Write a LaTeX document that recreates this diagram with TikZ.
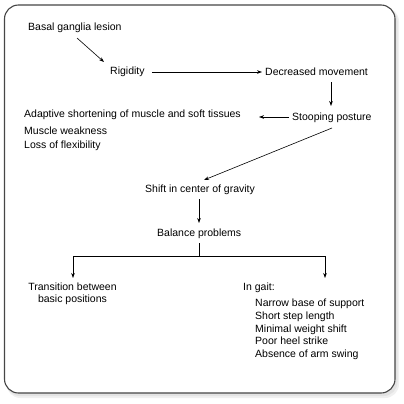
\documentclass[tikz,border=0pt]{standalone}
\usepackage{fontspec}
\setmainfont{Liberation Sans}
\usetikzlibrary{arrows.meta}
\begin{document}
\begin{tikzpicture}[x=1pt,y=-1pt,
  lbl/.style={inner sep=0pt,font=\fontsize{10.5}{12.7}\selectfont,anchor=west},
  arr/.style={draw=black,line width=0.6pt,-{Stealth[length=5pt,width=3.6pt]}},
  ln/.style={draw=black,line width=0.6pt}]
\useasboundingbox (0,0) rectangle (404,404);
\fill[gray!12] (6.5,7.5) [rounded corners=14pt] rectangle (399,398);
\fill[gray!22] (6,7) [rounded corners=14pt] rectangle (397.5,396);
\draw[gray!55!black,line width=1.1pt,fill=white,rounded corners=14pt] (4.5,5) rectangle (395,393);
\node[lbl] (bgl) at (28,28) {Basal ganglia lesion};
\node[lbl] (rig) at (110,72) {Rigidity};
\node[lbl] (dec) at (265,72) {Decreased movement};
\node[lbl] (stp) at (292,118) {Stooping posture};
\node[lbl] (ada) at (24,115) {Adaptive shortening of muscle and soft tissues};
\node[lbl] (mw) at (24,131) {Muscle weakness};
\node[lbl] (lf) at (24,146) {Loss of flexibility};
\node[lbl] (sh) at (145,190) {Shift in center of gravity};
\node[lbl] (bal) at (157,234) {Balance problems};
\node[lbl,align=center,anchor=center,font=\fontsize{10.5}{12}\selectfont] (tr) at (72.5,294) {Transition between\\basic positions};
\node[lbl] (ig) at (243,288) {In gait:};
\node[lbl,align=left] (lst) at (255,329.5) {Narrow base of support\\Short step length\\Minimal weight shift\\Poor heel strike\\Absence of arm swing};
\coordinate (a1s) at (77,38); \coordinate (a1e) at (104,62);
\draw[arr] (a1s) -- (a1e);
\draw[arr] (rig.east) ++(7,0) coordinate (a2s) -- (262,72);
\draw[arr] (331,82) coordinate (a3s) -- (331,106);
\draw[arr] (289,117) coordinate (a4s) -- (259,117);
\draw[arr] (332,128) coordinate (a5s) -- (204,180);
\draw[arr] (199,199) coordinate (a6s) -- (199,223);
\coordinate (j) at (199,256);
\draw[ln] (199,243) -- (j);
\draw[arr] (j) -| (73,278);
\draw[arr] (j) -| (325,278);
\end{tikzpicture}
\end{document}
